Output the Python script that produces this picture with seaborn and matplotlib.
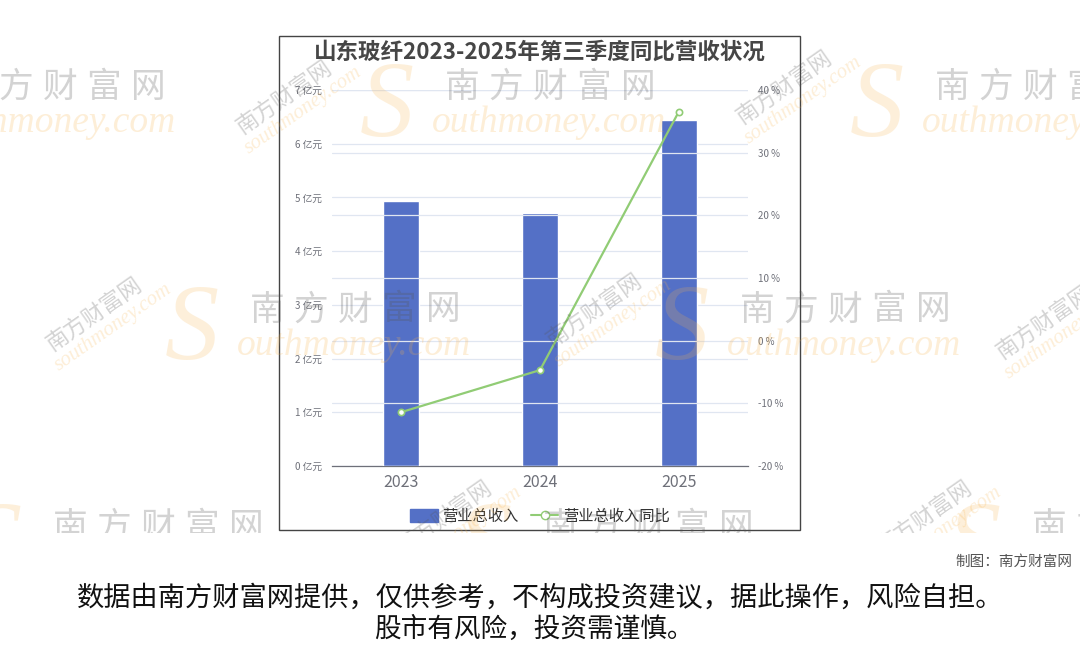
import matplotlib
matplotlib.use("Agg")
import matplotlib.pyplot as plt
from matplotlib.patches import Rectangle, Patch
from matplotlib.lines import Line2D
from matplotlib.transforms import Bbox, TransformedBbox
import numpy as np
import pandas as pd
import seaborn as sns

# ---- data ----
years = ["2023", "2024", "2025"]
revenue = [4.93, 4.71, 6.44]          # 营业总收入 (亿元)
yoy = [-11.4, -4.7, 36.5]             # 营业总收入同比 (%)
left_ticks = [0, 1, 2, 3, 4, 5, 6, 7]
right_ticks = [-20, -10, 0, 10, 20, 30, 40]

title = "山东玻纤2023-2025年第三季度同比营收状况"
bar_name = "营业总收入"
line_name = "营业总收入同比"

sns.set_theme(style="white")
plt.rcParams["font.family"] = ["Noto Sans CJK SC", "DejaVu Sans"]

W, H = 1080, 646
fig = plt.figure(figsize=(W / 100, H / 100), dpi=100)
fig.patch.set_facecolor("white")


def fx(px):
    return px / W


def fy(py):
    return 1 - py / H


BLUE = "#5470c6"
GREEN = "#91cc75"
AXIS_GRAY = "#6e7079"
GRID = "#e0e6f1"

# chart panel border
fig.patches.append(Rectangle((fx(279), fy(530)), fx(800) - fx(279), fy(36) - fy(530),
                             transform=fig.transFigure, fill=False,
                             edgecolor="#444444", linewidth=1.0, zorder=0))

ax = fig.add_axes([fx(332), fy(466), fx(748) - fx(332), fy(90) - fy(466)])
ax.set_facecolor("none")

df = pd.DataFrame({"year": years, "revenue": revenue, "yoy": yoy})
sns.barplot(data=df, x="year", y="revenue", color=BLUE, saturation=1,
            width=0.26, ax=ax, zorder=3)

ax.set_xlim(-0.5, 2.5)
ax.set_ylim(0, 7)
ax.set_yticks(left_ticks)
ax.set_yticklabels([f"{t} 亿元" for t in left_ticks], fontsize=7, color=AXIS_GRAY)
ax.set_xlabel("")
ax.set_ylabel("")
ax.tick_params(axis="y", length=0, pad=7)
ax.tick_params(axis="x", which="major", length=0, pad=6, labelsize=11.5, labelcolor=AXIS_GRAY)
ax.set_xticks([-0.5, 0.5, 1.5, 2.5], minor=True)
ax.tick_params(axis="x", which="minor", length=5, color=AXIS_GRAY, width=0.9)
ax.grid(axis="y", color=GRID, linewidth=0.9, zorder=0)
for s in ["left", "right", "top"]:
    ax.spines[s].set_visible(False)
ax.spines["bottom"].set_color(AXIS_GRAY)
ax.spines["bottom"].set_linewidth(0.9)

ax2 = ax.twinx()
ax2.set_ylim(-20, 40)
ax2.set_yticks(right_ticks)
ax2.set_yticklabels([f"{t} %" for t in right_ticks], fontsize=7, color=AXIS_GRAY)
ax2.tick_params(axis="y", length=0, pad=7)
ax2.grid(axis="y", color=GRID, linewidth=0.9, zorder=0)
for s in ["left", "right", "top", "bottom"]:
    ax2.spines[s].set_visible(False)
sns.lineplot(x=np.arange(len(years)), y=yoy, ax=ax2, color=GREEN, linewidth=1.6,
             marker="o", markersize=4.5, markerfacecolor="white",
             markeredgecolor=GREEN, markeredgewidth=1.2, legend=False, zorder=5)
ax2.set_xlim(-0.5, 2.5)

# title
fig.text(fx(540), fy(52), title, ha="center", va="center", fontsize=16.2,
         fontweight="bold", color="#464646")

# legend
handles = [Patch(facecolor=BLUE, edgecolor=BLUE, label=bar_name),
           Line2D([0], [0], color=GREEN, linewidth=1.5, marker="o", markersize=6,
                  markerfacecolor="white", markeredgecolor=GREEN, label=line_name)]
fig.legend(handles=handles, loc="center", bbox_to_anchor=(fx(540), fy(516)), ncol=2,
           frameon=False, fontsize=11, handlelength=1.8, handleheight=0.9,
           columnspacing=0.8, handletextpad=0.3, labelcolor="#333333")

# footer
fig.text(fx(1072), fy(562), "制图：南方财富网", ha="right", va="center",
         fontsize=10.5, color="#555555")
fig.text(fx(540), fy(598), "数据由南方财富网提供，仅供参考，不构成投资建议，据此操作，风险自担。",
         ha="center", va="center", fontsize=19.6, color="#111111")
fig.text(fx(534), fy(629), "股市有风险，投资需谨慎。",
         ha="center", va="center", fontsize=19.2, color="#111111")

# ---- southmoney watermark ----
clip = TransformedBbox(Bbox([[0, fy(533)], [1, 1]]), fig.transFigure)
WM_GRAY = "#555555"
WM_ORANGE = "#f7b24a"


def wm_text(x, y, s, **kw):
    t = fig.text(fx(x), fy(y), s, zorder=20, **kw)
    t.set_clip_box(clip)
    t.set_clip_on(True)
    return t


def big_mark(x, y):
    # x, y: top-left of the Chinese name
    wm_text(x - 80, y + 66, "S", fontsize=78, family="Liberation Serif", style="italic",
            color=WM_ORANGE, alpha=0.2, ha="left", va="baseline")
    for i, ch in enumerate("南方财富网"):
        wm_text(x + 22 + i * 44, y + 17, ch, fontsize=25, color=WM_GRAY, alpha=0.26,
                ha="center", va="center")
    wm_text(x - 8, y + 62, "outhmoney.com", fontsize=27, family="Liberation Serif",
            style="italic", color=WM_ORANGE, alpha=0.22, ha="left", va="baseline")


def small_mark(cx, cy):
    ang = 35
    r = np.deg2rad(ang)
    # offset perpendicular to the text baseline (screen px, y downward)
    ox, oy = np.sin(r), np.cos(r)
    wm_text(cx - 10 * ox, cy - 10 * oy, "南方财富网", fontsize=16, color=WM_GRAY,
            alpha=0.26, rotation=ang, rotation_mode="anchor", ha="center", va="center")
    wm_text(cx + 12 * ox + 6, cy + 12 * oy - 4, "southmoney.com", fontsize=15,
            family="Liberation Serif", style="italic", color=WM_ORANGE, alpha=0.22,
            rotation=ang, rotation_mode="anchor", ha="center", va="center")


big_positions = [(-50, 70), (440, 70), (930, 70),
                 (245, 293), (735, 293),
                 (48, 510), (538, 510), (1027, 510)]
small_positions = [(290, 105), (790, 95), (100, 322), (600, 318), (1050, 330),
                   (450, 525), (930, 525)]
for p in big_positions:
    big_mark(*p)
for p in small_positions:
    small_mark(*p)

fig.savefig("out.png", dpi=100, facecolor="white")
